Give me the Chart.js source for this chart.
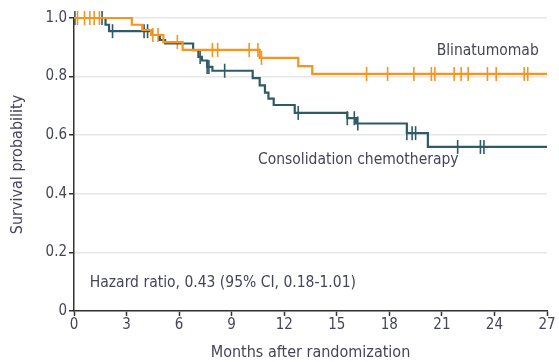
<!DOCTYPE html>
<html>
<head>
<meta charset="utf-8">
<script src="https://cdn.jsdelivr.net/npm/chart.js@4"></script>
<style>
html,body{margin:0;padding:0;background:#fff;}
#wrap{width:559px;height:362px;position:relative;}
</style>
</head>
<body>
<div id="wrap"><canvas id="c" width="559" height="362"></canvas></div>
<script>
// Kaplan-Meier step data (months, survival probability)
const blinaTimes = [0, 3.3, 3.9, 4.4, 5.1, 6.2, 10.6, 12.8, 13.6, 27];
const blinaSurv  = [1.0, 0.977, 0.959, 0.942, 0.918, 0.891, 0.864, 0.836, 0.809, 0.809];
const blinaCensor = [0.2, 0.6, 0.9, 1.15, 1.45, 4.5, 4.8, 5.9, 7.9, 8.2, 10.0, 10.5, 10.7,
  16.7, 17.9, 19.4, 20.4, 20.6, 21.7, 22.1, 22.5, 23.6, 24.1, 25.7, 25.9];

const chemoTimes = [0, 1.8, 2.0, 4.4, 4.9, 5.2, 6.8, 7.1, 7.3, 7.6, 7.9, 10.2, 10.6, 10.9, 11.1, 11.4, 12.6, 15.6, 16.1, 19.0, 20.2, 27];
const chemoSurv  = [1.0, 0.977, 0.955, 0.942, 0.925, 0.913, 0.89, 0.867, 0.855, 0.833, 0.82, 0.795, 0.77, 0.745, 0.725, 0.703, 0.676, 0.658, 0.64, 0.607, 0.56, 0.56];
const chemoCensor = [0.05, 1.6, 2.2, 4.0, 4.2, 7.2, 7.6, 7.7, 8.6, 12.8, 15.6, 16.0, 16.2, 19.0, 19.3, 19.5, 21.9, 23.2, 23.4];

const xTicks = [0, 3, 6, 9, 12, 15, 18, 21, 24, 27];
const yTickLabels = ['0', '0.2', '0.4', '0.6', '0.8', '1.0'];

const seriesNames = ['Blinatumomab', 'Consolidation chemotherapy'];
const xTitle = 'Months after randomization';
const yTitle = 'Survival probability';
const hazardText = 'Hazard ratio, 0.43 (95% CI, 0.18-1.01)';

const ORANGE = '#f7941d';
const TEAL = '#2f5b68';
const TEXT = '#45455a';
const FONT = '"Liberation Sans Narrow", "DejaVu Sans Condensed", "Liberation Sans", sans-serif';

function stepPts(t, s) { return t.map((v, i) => ({x: v, y: s[i]})); }
function survAt(t, s, time) {
  let v = s[0];
  for (let i = 0; i < t.length; i++) { if (t[i] <= time) v = s[i]; }
  return v;
}
function censorPts(t, s, c) { return c.map(v => ({x: v, y: survAt(t, s, v)})); }

const labelPlugin = {
  id: 'labels',
  afterDatasetsDraw(chart) {
    const ctx = chart.ctx;
    const xs = chart.scales.x, ys = chart.scales.y;
    ctx.save();
    ctx.fillStyle = TEXT;
    ctx.font = '15.5px ' + FONT;
    ctx.textBaseline = 'middle';
    ctx.textAlign = 'left';
    ctx.fillText(seriesNames[0], xs.getPixelForValue(20.7), ys.getPixelForValue(0.887));
    ctx.fillText(seriesNames[1], xs.getPixelForValue(10.5), ys.getPixelForValue(0.515));
    ctx.fillText(hazardText, xs.getPixelForValue(0.9), ys.getPixelForValue(0.095));
    ctx.restore();
  }
};

new Chart(document.getElementById('c'), {
  type: 'line',
  data: {
    datasets: [
      {label: seriesNames[0], data: stepPts(blinaTimes, blinaSurv), stepped: 'before',
       borderColor: ORANGE, borderWidth: 2.2, pointRadius: 0, fill: false, clip: false},
      {label: seriesNames[1], data: stepPts(chemoTimes, chemoSurv), stepped: 'before',
       borderColor: TEAL, borderWidth: 2.2, pointRadius: 0, fill: false, clip: false},
      {type: 'scatter', data: censorPts(blinaTimes, blinaSurv, blinaCensor), showLine: false,
       pointStyle: 'line', rotation: 90, pointRadius: 7, borderColor: ORANGE, borderWidth: 1.6, clip: false},
      {type: 'scatter', data: censorPts(chemoTimes, chemoSurv, chemoCensor), showLine: false,
       pointStyle: 'line', rotation: 90, pointRadius: 7, borderColor: TEAL, borderWidth: 1.6, clip: false}
    ]
  },
  options: {
    responsive: false,
    animation: false,
    events: [],
    layout: {padding: {top: 18, right: 12, left: 0, bottom: 0}},
    plugins: {legend: {display: false}, tooltip: {enabled: false}},
    scales: {
      x: {
        type: 'linear', min: 0, max: 27,
        afterBuildTicks: s => { s.ticks = xTicks.map(v => ({value: v})); },
        afterFit: s => { s.height = 51; },
        ticks: {color: TEXT, font: {family: FONT, size: 15}, padding: 0, maxRotation: 0, autoSkip: false},
        grid: {drawOnChartArea: false, drawTicks: true, tickLength: 5, tickColor: '#333', tickWidth: 1.5},
        border: {display: true, color: '#333', width: 1.5},
        title: {display: true, text: xTitle, color: TEXT, font: {family: FONT, size: 16}, padding: {top: 4, bottom: 0}}
      },
      y: {
        type: 'linear', min: 0, max: 1,
        afterBuildTicks: s => { s.ticks = yTickLabels.map((l, i) => ({value: i * 0.2})); },
        afterFit: s => { s.width = 74; },
        ticks: {color: TEXT, font: {family: FONT, size: 15}, padding: 2,
                callback: (v, i) => yTickLabels[i]},
        grid: {drawOnChartArea: true, color: '#e6e6e6', lineWidth: 1.5, drawTicks: true, tickLength: 5, tickColor: '#333', tickWidth: 1.5},
        border: {display: true, color: '#333', width: 1.5},
        title: {display: true, text: yTitle, color: TEXT, font: {family: FONT, size: 16}, padding: {top: 8, bottom: 4}}
      }
    }
  },
  plugins: [labelPlugin]
});
</script>
</body>
</html>
